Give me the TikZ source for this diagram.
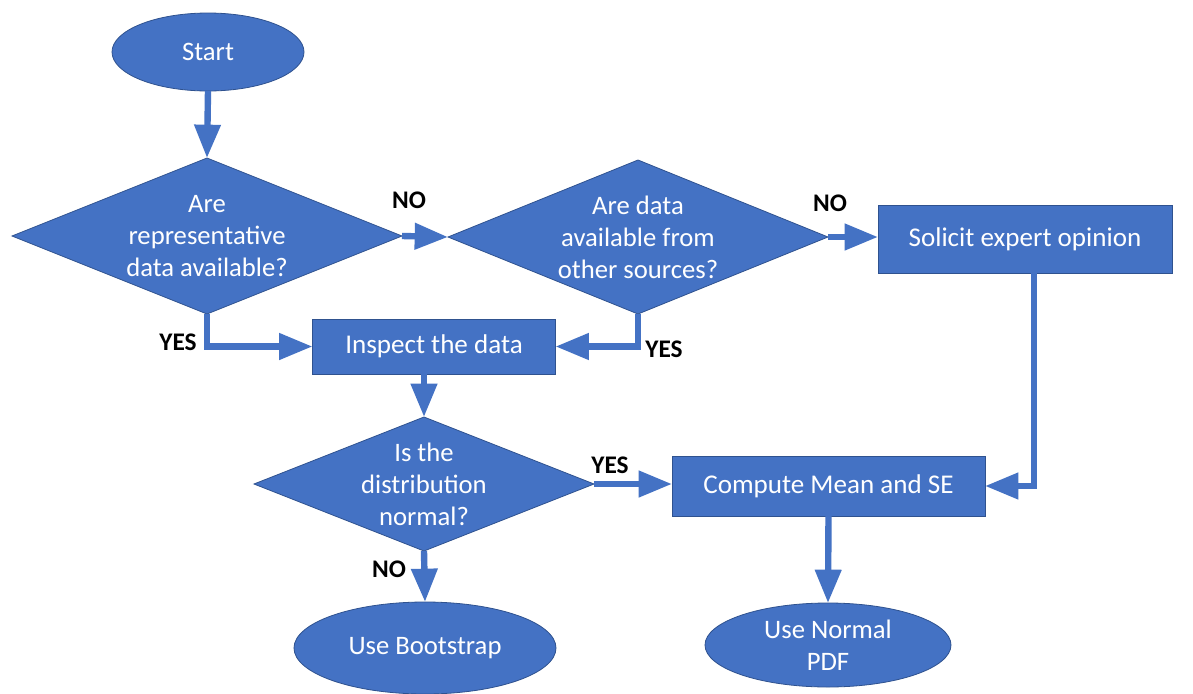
\documentclass[tikz,border=0pt]{standalone}
\usepackage{fontspec}
\setmainfont{Carlito}
\usetikzlibrary{shapes.geometric,arrows.meta,calc}
\definecolor{obl}{HTML}{4472C4}
\definecolor{obd}{HTML}{2F528F}
\tikzset{
  shp/.style={fill=obl,draw=obd,line width=0.6pt,inner sep=0pt,outer sep=0pt},
  dia/.style={shp,diamond},
  ell/.style={shp,ellipse},
  box/.style={shp,rectangle,text=white,font=\fontsize{20.3pt}{24pt}\selectfont},
  txt/.style={text=white,align=center,inner sep=0pt,font=\fontsize{20pt}{24pt}\selectfont},
  lbl/.style={text=black,inner sep=0pt,font=\fontsize{19pt}{21pt}\selectfont\bfseries},
  conn/.style={draw=obl,line width=4.8pt,-{Triangle[length=25pt,width=19pt]},color=obl}
}
\begin{document}
\begin{tikzpicture}[x=0.75pt,y=-0.75pt]
\useasboundingbox[fill=white] (0,0) rectangle (1193,693);
% shapes
\node[ell,minimum width=144pt,minimum height=58.5pt] (start) at (208,52) {};
\node[txt] (startt) at (start) {Start};
\node[dia,minimum width=292.5pt,minimum height=117pt] (d1) at (207,236) {};
\node[txt] (d1t) at (d1) {Are\\representative\\data available?};
\node[dia,minimum width=285pt,minimum height=115.5pt] (d2) at (638,237) {};
\node[txt] (d2t) at (d2) {Are data\\available from\\other sources?};
\node[box,minimum width=220.5pt,minimum height=51pt] (sol) at (1025,239) {Solicit expert opinion};
\node[box,minimum width=182.25pt,minimum height=41.25pt] (insp) at (434,346.5) {Inspect the data};
\node[dia,minimum width=255pt,minimum height=100.5pt] (d3) at (424,484) {};
\node[txt] (d3t) at (d3) {Is the\\distribution\\normal?};
\node[box,minimum width=234.75pt,minimum height=45pt] (comp) at (828.5,486) {Compute Mean and SE};
\node[ell,minimum width=196.5pt,minimum height=69pt] (boot) at (425,648) {};
\node[txt] (boott) at (boot) {Use Bootstrap};
\node[ell,minimum width=184.5pt,minimum height=63pt] (pdf) at (828,645) {};
\node[txt] (pdft) at (pdf) {Use Normal\\PDF};
% connectors
\draw[conn] (start.south) -- (d1.north);
\draw[conn] (d1.east) -- (d2.west);
\draw[conn] (d2.east) -- (d2.east -| sol.west);
\draw[conn] (d1.south) |- (insp.west);
\draw[conn] (d2.south) |- (insp.east);
\draw[conn] (insp.south -| d3.north) -- (d3.north);
\draw[conn] (d3.east) -- (d3.east -| comp.west);
\draw[conn] ([xshift=6.75pt]sol.south) |- (comp.east);
\draw[conn] (d3.south) -- (boot.north);
\draw[conn] (comp.south) -- (pdf.north);
% labels
\node[lbl] (no1) at (409,200) {NO};
\node[lbl] (no2) at (830,203) {NO};
\node[lbl] (yes1) at (178,342) {YES};
\node[lbl] (yes2) at (664,349) {YES};
\node[lbl] (yes3) at (610,465) {YES};
\node[lbl] (no3) at (389,569) {NO};
\end{tikzpicture}
\end{document}
